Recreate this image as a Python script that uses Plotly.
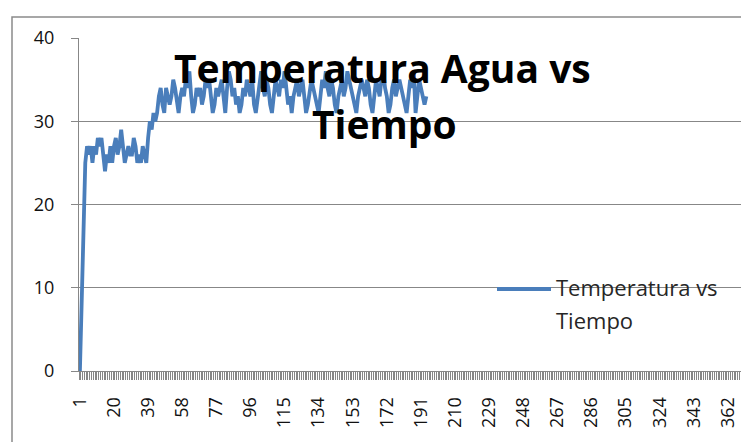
import plotly.graph_objects as go

# ---- data ----
temperatura = [
    0, 10, 20, 25, 27, 26, 27, 25, 27, 26,
    28, 27, 28, 26, 24, 26, 25, 27, 25, 27,
    28, 26, 27, 29, 27, 25, 26, 27, 26, 26,
    28, 27, 25, 26, 25, 27, 26, 25, 28, 30,
    29, 31, 30, 31, 33, 34, 32, 31, 34, 33,
    32, 33, 35, 34, 32, 31, 33, 34, 33, 35,
    34, 36, 33, 31, 32, 34, 33, 34, 32, 33,
    35, 34, 35, 33, 31, 32, 34, 33, 34, 35,
    33, 31, 34, 36, 35, 33, 34, 32, 33, 31,
    32, 34, 33, 35, 34, 33, 35, 32, 31, 33,
    34, 36, 34, 33, 35, 34, 32, 31, 33, 35,
    34, 33, 35, 34, 36, 34, 32, 33, 31, 33,
    34, 35, 33, 34, 35, 33, 31, 32, 34, 35,
    34, 33, 32, 31, 33, 35, 34, 36, 34, 33,
    35, 34, 32, 31, 33, 34, 35, 33, 34, 36,
    35, 34, 33, 32, 31, 33, 34, 35, 34, 33,
    35, 34, 32, 31, 33, 35, 34, 33, 35, 36,
    34, 33, 31, 32, 34, 35, 33, 34, 35, 34,
    33, 32, 31, 33, 35, 34, 36, 31, 33, 35,
    34, 33, 32, 33,
]
muestra = list(range(1, len(temperatura) + 1))
tick_vals = list(range(1, 382, 19))
tick_text = [str(v) for v in tick_vals]
y_ticks = [0, 10, 20, 30, 40]

title_line1 = "Temperatura Agua vs"
title_line2 = "Tiempo"
series_name = "Temperatura vs Tiempo"

# ---- layout geometry (pixels) ----
W, H = 741, 442
L, R, T, B = 79, 0, 38, 71
PW, PH = W - L - R, H - T - B
cat_px = 1.795

def px(x):
    return (x - L) / PW

def py(y):
    return (H - B - y) / PH

line_color = "#4A7EBB"
grid_color = "#878787"
font_family = "Open Sans"

fig = go.Figure()
fig.add_trace(go.Scatter(
    x=muestra, y=temperatura, mode="lines", name=series_name,
    line=dict(color=line_color, width=3.8), showlegend=False,
))

fig.update_layout(
    width=W, height=H,
    margin=dict(l=L, r=R, t=T, b=B, autoexpand=False),
    paper_bgcolor="white", plot_bgcolor="white",
    font=dict(family=font_family, size=18, color="#111111"),
    showlegend=False,
)

fig.update_xaxes(
    range=[0.5, 0.5 + PW / cat_px], automargin=False,
    tickmode="array", tickvals=tick_vals, ticktext=tick_text,
    tickangle=-90, ticks="outside", ticklen=8, tickcolor="rgba(0,0,0,0)",
    ticklabelstandoff=10,
    showgrid=False, zeroline=False,
    showline=True, linecolor=grid_color, linewidth=1,
    minor=dict(tickmode="linear", tick0=0.5, dtick=1, ticks="outside",
               ticklen=8, tickcolor=grid_color, tickwidth=1, showgrid=False),
    tickfont=dict(size=18, color="#111111"),
)
fig.update_yaxes(
    range=[0, 40], tickvals=y_ticks, automargin=False,
    ticks="outside", ticklen=7, tickcolor=grid_color,
    ticklabelstandoff=13,
    showgrid=True, gridcolor=grid_color, gridwidth=1,
    zeroline=False, showline=True, linecolor=grid_color, linewidth=1,
    tickfont=dict(size=18, color="#111111"),
)

# outer chart border
fig.add_shape(type="rect", xref="paper", yref="paper",
              x0=px(12), x1=px(800), y0=py(500), y1=py(17),
              line=dict(color="#8a8a8a", width=1.5), fillcolor="rgba(0,0,0,0)",
              layer="below")

# title
fig.add_annotation(text="<b>" + title_line1 + "</b>", xref="paper", yref="paper",
                   x=px(382), y=py(67), xanchor="center", yanchor="middle",
                   showarrow=False, font=dict(family=font_family, size=39, color="black"))
fig.add_annotation(text="<b>" + title_line2 + "</b>", xref="paper", yref="paper",
                   x=px(384), y=py(124), xanchor="center", yanchor="middle",
                   showarrow=False, font=dict(family=font_family, size=39, color="black"))

# legend (drawn manually to match the long sample line)
fig.add_shape(type="line", xref="paper", yref="paper",
              x0=px(497), x1=px(551), y0=py(289), y1=py(289),
              line=dict(color=line_color, width=4))
fig.add_annotation(text="Temperatura vs", xref="paper", yref="paper",
                   x=px(554), y=py(287), xanchor="left", yanchor="middle",
                   showarrow=False, font=dict(family=font_family, size=22, color="#262626"))
fig.add_annotation(text="Tiempo", xref="paper", yref="paper",
                   x=px(554), y=py(320), xanchor="left", yanchor="middle",
                   showarrow=False, font=dict(family=font_family, size=22, color="#262626"))

fig.write_html(
    "out.html",
    config={"displayModeBar": False},
    post_script="document.body.style.margin='0';document.body.style.overflow='hidden';",
)
